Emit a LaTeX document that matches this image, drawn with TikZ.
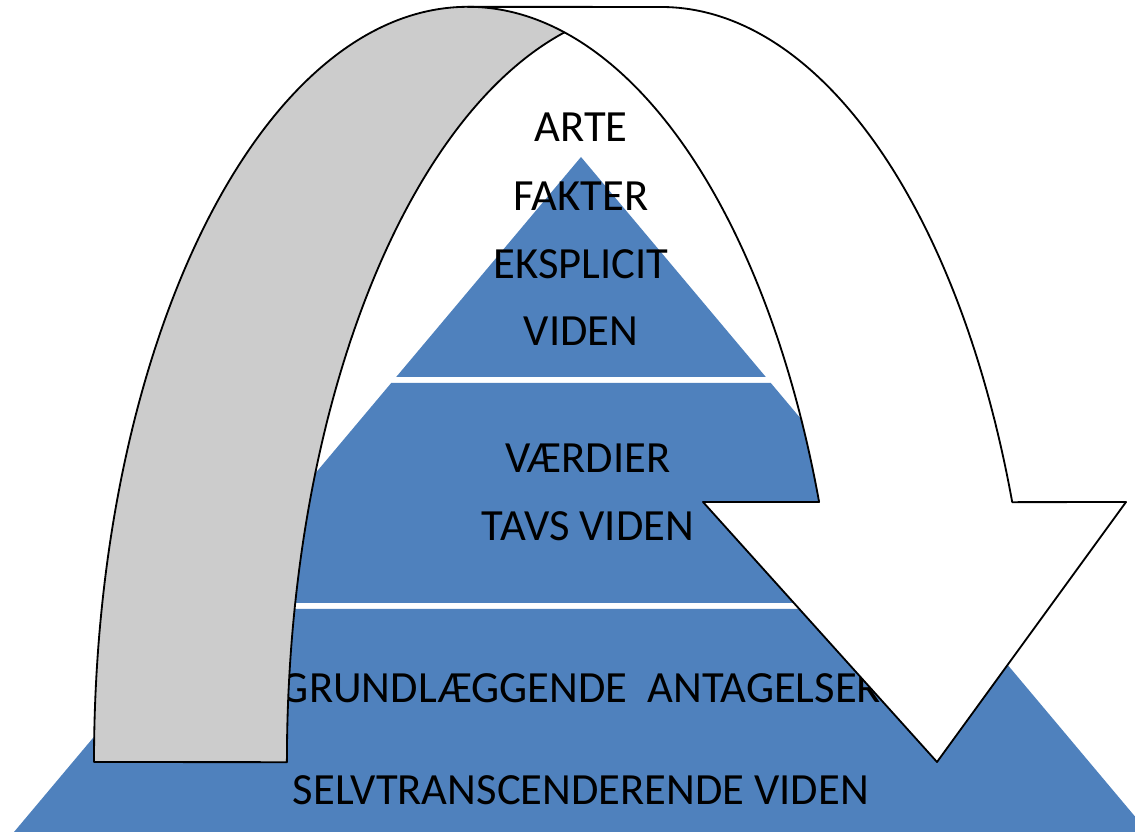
\documentclass[tikz,border=0pt]{standalone}
\usepackage{fontspec}
\setmainfont{Carlito}
\definecolor{pyrblue}{RGB}{79,129,189}
\definecolor{backgrey}{RGB}{204,204,204}

\begin{document}
\begin{tikzpicture}[
    x=0.025cm, y=0.025cm,
    tier/.style={fill=pyrblue},
    lbl/.style={anchor=base, inner sep=0pt, font=\fontsize{31.7}{38}\selectfont},
    band/.style={draw=black, line width=1.3pt, line join=round},
    ell/.style={x radius=9.35cm, y radius=18.875cm}
]
    \useasboundingbox (0,0) rectangle (1135,832);
    \clip (0,0) rectangle (1135,832);

    % --- pyramid, three tiers ---
    \fill[tier] (581,675) -- (396.2,455) -- (765.8,455) -- cycle;
    \fill[tier] (391.2,449) -- (770.8,449) -- (955.6,229) -- (206.4,229) -- cycle;
    \fill[tier] (201.3,223) -- (960.7,223) -- (1148,0) -- (14,0) -- cycle;

    % top tier
    \node[lbl] (arte) at (581,690) {ARTE};
    \node[lbl] (fakter) at (581,621) {FAKTER};
    \node[lbl] (eksplicit) at (581,553) {EKSPLICIT};
    \node[lbl] (viden) at (581,486) {VIDEN};

    % middle tier
    \node[lbl] (vaerdier) at (588,359) {VÆRDIER};
    \node[lbl] (tavs) at (588,291) {TAVS VIDEN};

    % bottom tier
    \node[lbl] (grund) at (581,129) {GRUNDLÆGGENDE\ \ ANTAGELSER};
    \node[lbl] (selv) at (581,27) {SELVTRANSCENDERENDE VIDEN};

    % --- curved arrow ---
    % back of the left leg
    \draw[band, fill=backgrey] (94,70) arc[ell, start angle=180, end angle=90]
        -- (661,825) arc[ell, start angle=90, end angle=180] -- cycle;

    % front band with the head
    \draw[band, fill=white] (468,825) -- (661,825)
        arc[ell, start angle=90, end angle=20.14]
        -- (1126,330) -- (937,70) -- (703,330) -- (819.1,330)
        arc[ell, start angle=20.14, end angle=90] -- cycle;

\end{tikzpicture}
\end{document}
